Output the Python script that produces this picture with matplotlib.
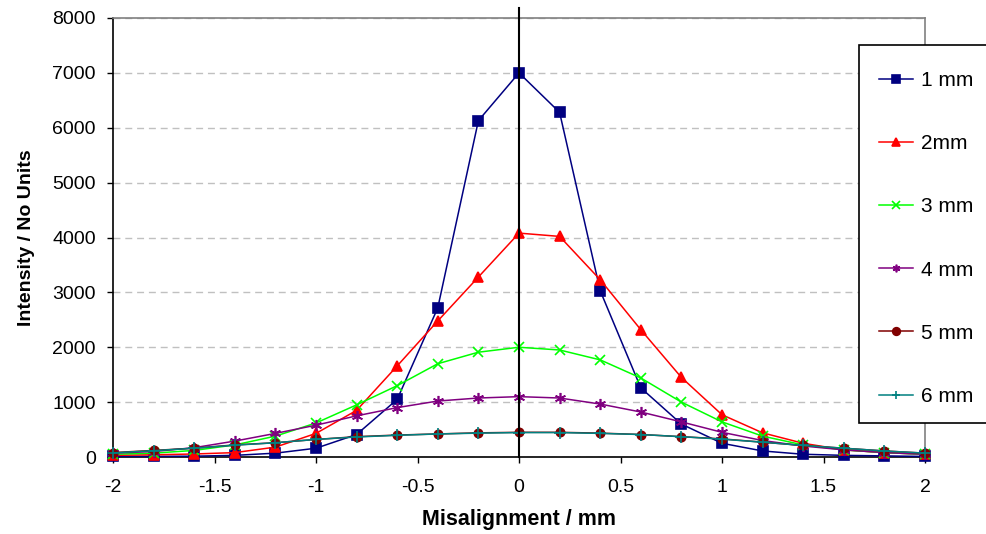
import matplotlib
matplotlib.use("Agg")
import matplotlib.pyplot as plt
from matplotlib.patches import Rectangle

plt.rcParams['font.family'] = ['Liberation Sans', 'DejaVu Sans']

x = [-2.0, -1.8, -1.6, -1.4, -1.2, -1.0, -0.8, -0.6, -0.4, -0.2, 0.0,
     0.2, 0.4, 0.6, 0.8, 1.0, 1.2, 1.4, 1.6, 1.8, 2.0]

s1mm = [10, 12, 15, 30, 70, 160, 410, 1050, 2720, 6130, 7000,
        6280, 3030, 1260, 600, 250, 110, 50, 30, 20, 10]
s2mm = [30, 40, 55, 80, 180, 430, 850, 1660, 2480, 3280, 4080,
        4020, 3230, 2320, 1450, 770, 440, 250, 130, 80, 50]
s3mm = [50, 70, 120, 220, 380, 620, 950, 1300, 1700, 1910, 2000,
        1950, 1770, 1440, 1000, 640, 380, 220, 130, 80, 50]
s4mm = [70, 100, 170, 290, 430, 580, 750, 900, 1020, 1075, 1100,
        1075, 965, 820, 640, 450, 300, 200, 130, 80, 50]
s5mm = [80, 120, 160, 220, 260, 320, 370, 400, 420, 440, 450,
        450, 435, 410, 370, 330, 270, 210, 160, 110, 70]
s6mm = [75, 115, 160, 215, 260, 320, 365, 395, 420, 435, 445,
        445, 430, 410, 370, 325, 270, 210, 160, 110, 70]

labels = ['1 mm', '2mm', '3 mm', '4 mm', '5 mm', '6 mm']
series = [s1mm, s2mm, s3mm, s4mm, s5mm, s6mm]
colors = ['#000080', '#FF0000', '#00FF00', '#800080', '#800000', '#008080']
markers = ['s', '^', 'x', (6, 2, 0), 'o', '+']
msizes = [6.5, 7, 7, 8, 6, 8]

W, H = 986, 534
fig = plt.figure(figsize=(W / 100, H / 100), dpi=100)
L, R, T, B = 113, 925, 18, 457
ax = fig.add_axes([L / W, 1 - B / H, (R - L) / W, (B - T) / H])

handles = []
for ys, lab, c, m, ms in zip(series, labels, colors, markers, msizes):
    h, = ax.plot(x, ys, color=c, marker=m, markersize=ms, lw=1.1,
                 markeredgewidth=1.2, label=lab, clip_on=False, zorder=3)
    handles.append(h)

ax.set_xlim(-2, 2)
ax.set_ylim(0, 8000)
ax.set_xticks([-2, -1.5, -1, -0.5, 0, 0.5, 1, 1.5, 2])
ax.set_xticklabels(['-2', '-1.5', '-1', '-0.5', '0', '0.5', '1', '1.5', '2'])
ax.set_yticks(range(0, 8001, 1000))
ax.set_yticklabels([str(v) for v in range(0, 8001, 1000)])
ax.yaxis.grid(True, color='#c0c0c0', linestyle=(0, (5, 3.5)), lw=1)
ax.set_axisbelow(True)

for s in ['top', 'right']:
    ax.spines[s].set_color('#808080')
    ax.spines[s].set_linewidth(1.2)
for s in ['left', 'bottom']:
    ax.spines[s].set_color('black')
    ax.spines[s].set_linewidth(1.2)

ax.tick_params(axis='both', direction='out', length=4.5, width=1,
               labelsize=14, colors='black')
ax.tick_params(axis='y', pad=8)
ax.tick_params(axis='x', pad=11)

ax.axvline(0, ymin=0, ymax=1 + 10 / (B - T), color='black', lw=1.5,
           clip_on=False, zorder=4)

ax.set_xlabel('Misalignment / mm', fontsize=15.5, fontweight='bold', labelpad=10)
ax.set_ylabel('Intensity / No Units', fontsize=14, fontweight='bold', labelpad=12)

# legend box
fig.patches.append(Rectangle((859 / W, 1 - 423 / H), (1000 - 859) / W, (423 - 45) / H,
                             transform=fig.transFigure, facecolor='white',
                             edgecolor='black', lw=1.2, zorder=5))
leg = fig.legend(handles=handles, loc='upper left',
                 bbox_to_anchor=(879 / W, 1 - 71 / H), frameon=False,
                 fontsize=15, handlelength=1.65, handletextpad=0.35,
                 labelspacing=2.12, borderaxespad=0, borderpad=0)
for lh in leg.legend_handles:
    lh.set_markersize(5.5)
leg.set_zorder(6)

fig.savefig('out.png', dpi=100, facecolor='white')
